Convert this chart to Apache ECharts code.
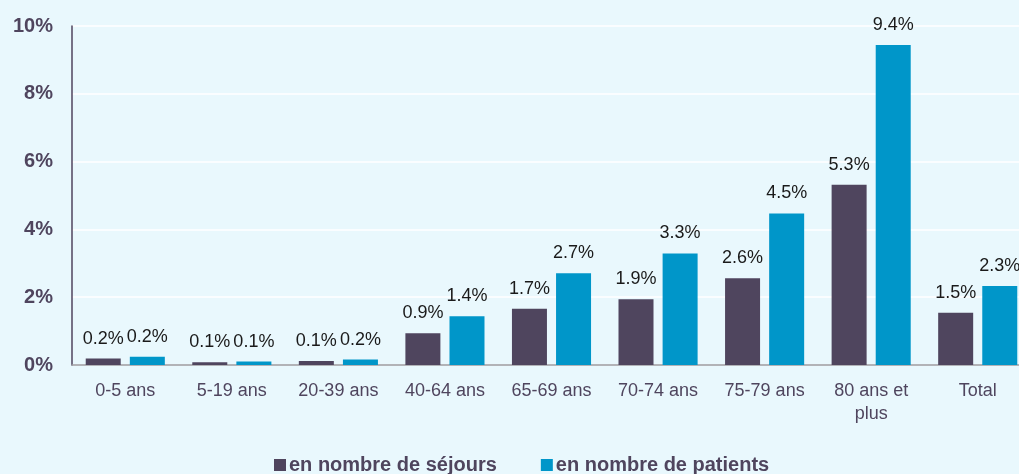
<!DOCTYPE html>
<html>
<head>
<meta charset="utf-8">
<script src="https://cdn.jsdelivr.net/npm/echarts@6/dist/echarts.min.js"></script>
<style>
  html, body { margin: 0; padding: 0; background: #e9f8fd; }
  #chart { width: 1019px; height: 474px; }
</style>
</head>
<body>
<div id="chart"></div>
<script>
// categories (tranches d'âge)
var categories = ['0-5 ans', '5-19 ans', '20-39 ans', '40-64 ans', '65-69 ans', '70-74 ans', '75-79 ans', '80 ans et\nplus', 'Total']
// % en nombre de séjours
var sejours = [0.19, 0.08, 0.12, 0.94, 1.66, 1.94, 2.56, 5.32, 1.54]
// % en nombre de patients
var patients = [0.24, 0.10, 0.16, 1.44, 2.71, 3.29, 4.47, 9.44, 2.33]
var yTicks = [0, 2, 4, 6, 8, 10]

var chart = echarts.init(document.getElementById('chart'))
var font = 'Liberation Sans, Arial, sans-serif'

function barLabel() {
  return {
    show: true,
    position: 'top',
    distance: 11,
    color: '#1a1a1a',
    fontSize: 18,
    fontFamily: font,
    formatter: function (p) { return p.value.toFixed(1) + '%' }
  }
}

chart.setOption({
  backgroundColor: '#e9f8fd',
  animation: false,
  color: ['#4f455e', '#0096c9'],
  grid: { left: 72, width: 959, top: 26, height: 339, outerBoundsMode: 'none', containLabel: false },
  legend: {
    top: 450,
    left: 269,
    itemWidth: 12,
    itemHeight: 12,
    itemGap: 44,
    icon: 'rect',
    textStyle: { color: '#4f455e', fontSize: 20, fontWeight: 'bold', fontFamily: font, padding: [0, 0, 0, -2] },
    data: ['en nombre de séjours', 'en nombre de patients']
  },
  xAxis: {
    type: 'category',
    data: categories,
    axisLine: { lineStyle: { color: '#9a9aa0', width: 1.5 } },
    axisTick: { show: false },
    axisLabel: { color: '#4f455e', fontSize: 18, fontFamily: font, margin: 15, lineHeight: 23, interval: 0 }
  },
  yAxis: {
    type: 'value',
    min: yTicks[0],
    max: yTicks[yTicks.length - 1],
    interval: 2,
    axisLine: { show: true, lineStyle: { color: '#4f455e', width: 1.5 } },
    axisTick: { show: false },
    splitLine: { lineStyle: { color: '#ffffff', width: 1.5 } },
    axisLabel: {
      color: '#4f455e', fontSize: 20, fontWeight: 'bold', fontFamily: font, margin: 19,
      formatter: '{value}%'
    }
  },
  series: [
    {
      name: 'en nombre de séjours',
      type: 'bar',
      data: sejours,
      barWidth: 35,
      barGap: '26%',
      label: barLabel()
    },
    {
      name: 'en nombre de patients',
      type: 'bar',
      data: patients,
      barWidth: 35,
      label: barLabel()
    }
  ]
})
</script>
</body>
</html>
